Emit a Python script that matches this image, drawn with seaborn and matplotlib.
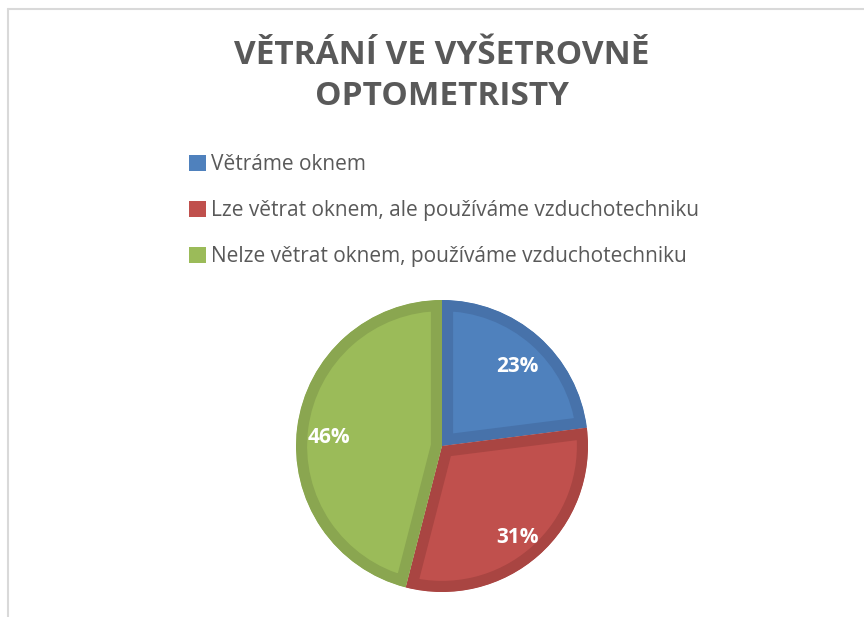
import matplotlib
matplotlib.use("Agg")
import matplotlib.pyplot as plt
import seaborn as sns
from matplotlib.patches import Patch
from matplotlib.lines import Line2D
from matplotlib.transforms import offset_copy

categories = ["Větráme oknem",
              "Lze větrat oknem, ale používáme vzduchotechniku",
              "Nelze větrat oknem, používáme vzduchotechniku"]
values = [23, 31, 46]
title = "VĚTRÁNÍ VE VYŠETROVNĚ\nOPTOMETRISTY"

fill_colors = ["#4F81BD", "#C0504D", "#9BBB59"]
edge_colors = ["#4772AA", "#A94542", "#8AA650"]

sns.set_theme(style="white")
plt.rcParams['font.family'] = ['Open Sans', 'DejaVu Sans']

W, H = 864, 617
fig = plt.figure(figsize=(W / 100, H / 100), dpi=100)
fig.patch.set_facecolor("white")

# chart border (top and left visible)
fig.add_artist(Line2D([8 / W, 1], [1 - 9 / H, 1 - 9 / H], color="#D9D9D9", lw=1.5))
fig.add_artist(Line2D([8 / W, 8 / W], [0, 1 - 9 / H], color="#D9D9D9", lw=1.5))

# pie axes
cx, cy, r = 442, 446, 146
ax = fig.add_axes([(cx - r) / W, (H - cy - r) / H, 2 * r / W, 2 * r / H])
wedges, texts, autotexts = ax.pie(
    values, colors=fill_colors, startangle=90, counterclock=False,
    autopct="%1.0f%%", pctdistance=0.78, radius=1,
    wedgeprops=dict(linewidth=16),
    textprops=dict(color="white", fontsize=15, fontweight="bold"))
for w, ec in zip(wedges, edge_colors):
    w.set_edgecolor(ec)
    w.set_clip_path(w)
    w.set_clip_on(True)
for t in autotexts:
    t.set_transform(offset_copy(ax.transData, fig=fig, y=-6, units="dots"))
ax.set_xlim(-1, 1)
ax.set_ylim(-1, 1)
ax.set_aspect("equal")
ax.axis("off")

# title
fig.text(cx / W, 1 - 76 / H, title, ha="center", va="center",
         fontsize=24, fontweight="bold", color="#595959", linespacing=1.35)

# legend
handles = [Patch(facecolor=c, edgecolor="none") for c in fill_colors]
fig.legend(handles, categories, loc="upper left",
           bbox_to_anchor=(189 / W, 1 - 154 / H), frameon=False,
           fontsize=15, labelcolor="#595959", handlelength=0.8, handleheight=0.8,
           handletextpad=0.25, labelspacing=1.2, borderpad=0, borderaxespad=0)

fig.savefig("out.png", dpi=100, facecolor="white")
